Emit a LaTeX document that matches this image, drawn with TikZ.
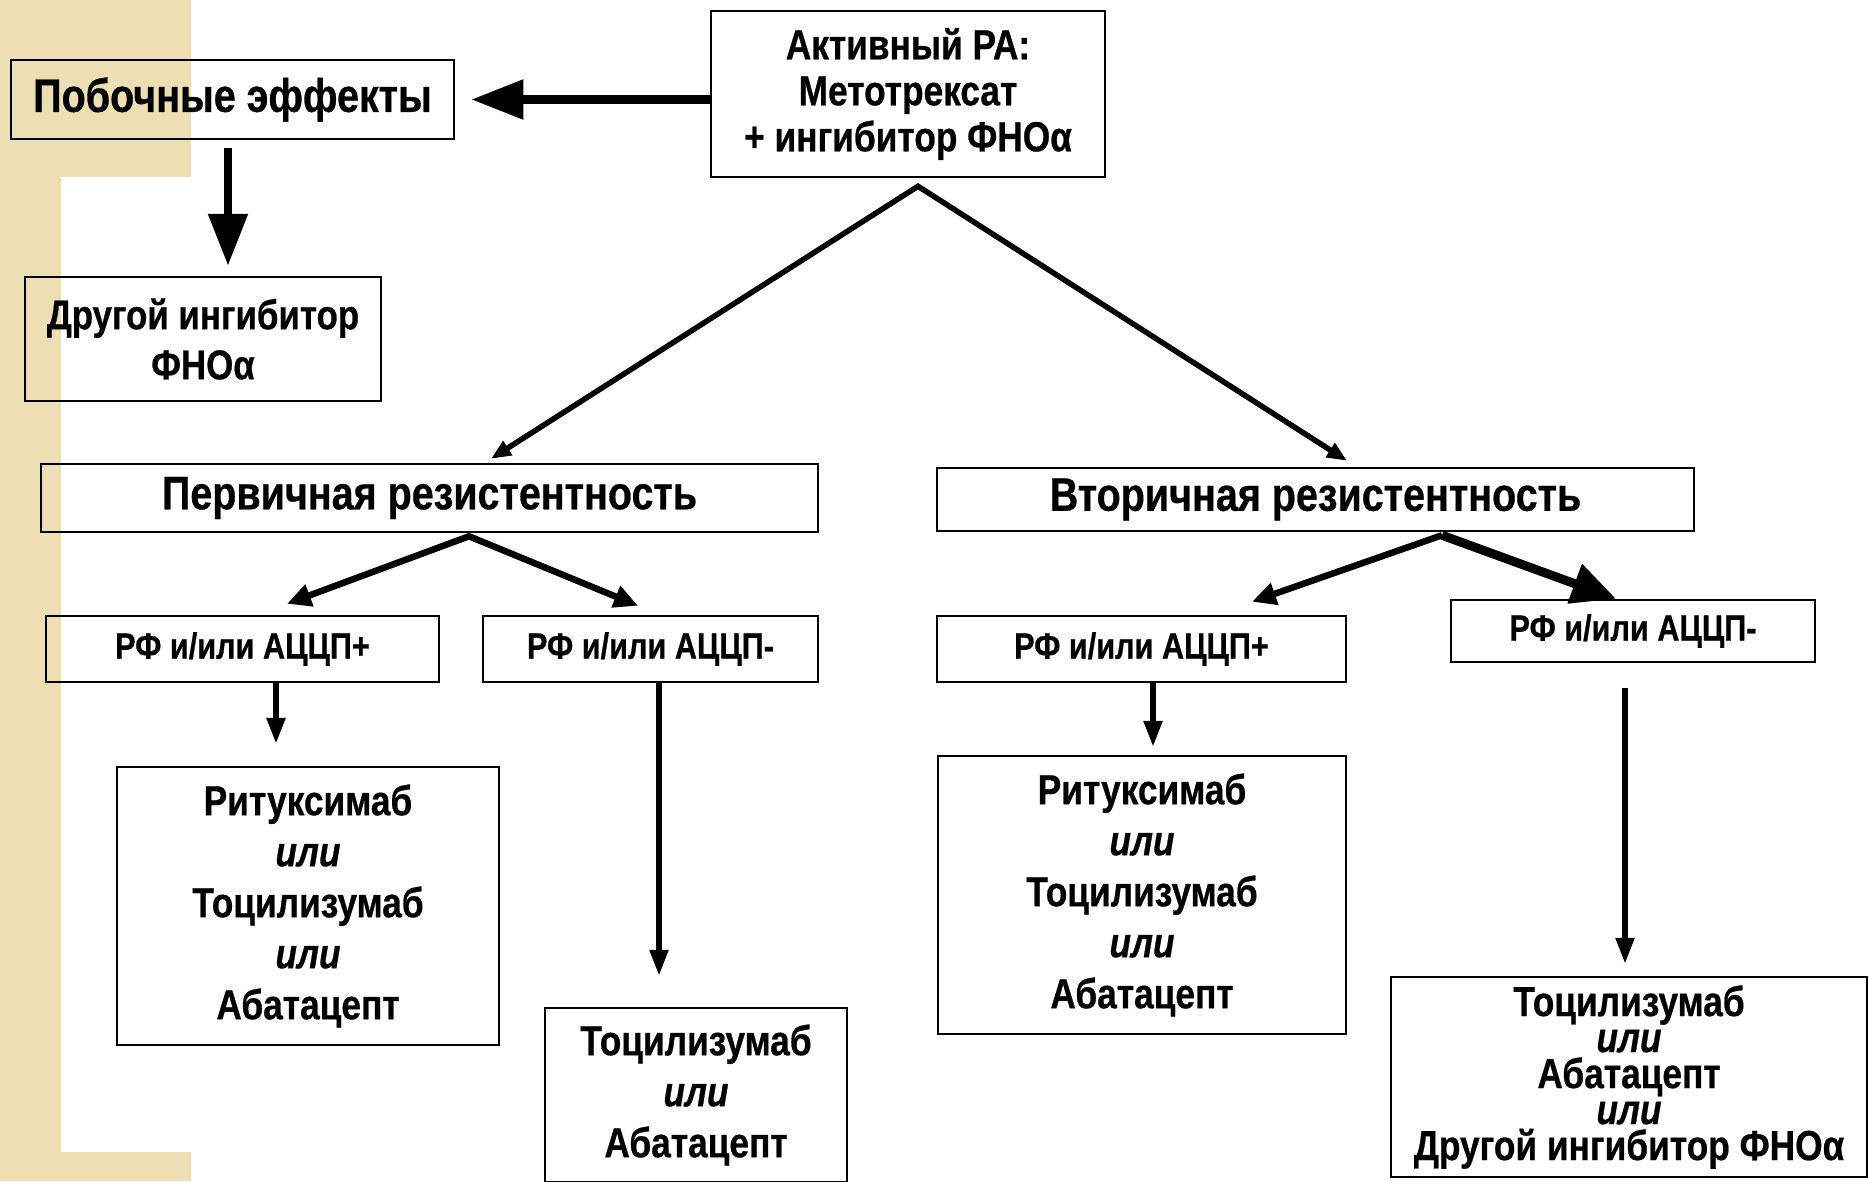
\documentclass[tikz,border=0pt]{standalone}
\usepackage{fontspec}
\setmainfont[FakeStretch=0.84, BoldFeatures={FakeBold=0.6}, BoldItalicFeatures={FakeBold=0.6}]{Liberation Sans}
\usetikzlibrary{arrows.meta}
\definecolor{paper}{RGB}{238,222,180}
\begin{document}
\begin{tikzpicture}[x=1pt, y=-1pt,
  box/.style={draw, line width=2.5pt, inner sep=0pt, align=center},
  sidearr/.style={line width=8.5pt, -{Triangle[length=52pt,width=38pt]}},
  diagarr/.style={line width=5.5pt, line join=miter, {Triangle[length=20pt,width=16pt]}-{Triangle[length=20pt,width=16pt]}},
  subarr/.style={line width=6.5pt, line join=miter, {Triangle[length=24pt,width=22pt]}-{Triangle[length=24pt,width=22pt]}},
  heavyarr/.style={line width=9pt, -{Triangle[length=44pt,width=40pt]}},
  downarr/.style={line width=5.5pt, -{Triangle[length=26pt,width=18pt]}}]
  \useasboundingbox (0,0) rectangle (1868,1181);
  % beige frame on the left
  \fill[paper] (0,0) -- (191,0) -- (191,177) -- (61,177) -- (61,1152) -- (191,1152) -- (191,1181) -- (0,1181) -- cycle;

  % boxes
  \node[box, minimum width=394pt, minimum height=166pt, font=\fontsize{42}{46}\selectfont\bfseries] (ra) at (908,94) {Активный РА:\\Метотрексат\\+ ингибитор ФНОα};
  \node[box, minimum width=443pt, minimum height=79pt, font=\fontsize{47}{50}\selectfont\bfseries] (side) at (232.5,99.5) {Побочные эффекты};
  \node[box, minimum width=356pt, minimum height=124pt, font=\fontsize{41.5}{50}\selectfont\bfseries] (other) at (203,339) {Другой ингибитор\\ФНОα};
  \node[box, minimum width=777pt, minimum height=68pt, font=\fontsize{47}{52}\selectfont\bfseries] (prim) at (429.5,498) {Первичная резистентность};
  \node[box, minimum width=757pt, minimum height=63pt, font=\fontsize{47}{52}\selectfont\bfseries] (sec) at (1315.5,499.5) {Вторичная резистентность};
  \node[box, minimum width=393pt, minimum height=66pt, font=\fontsize{36.5}{40}\selectfont\bfseries] (pplus) at (242.5,649) {РФ и/или АЦЦП+};
  \node[box, minimum width=335pt, minimum height=66pt, font=\fontsize{36.5}{40}\selectfont\bfseries] (pminus) at (650.5,649) {РФ и/или АЦЦП-};
  \node[box, minimum width=409pt, minimum height=66pt, font=\fontsize{36.5}{40}\selectfont\bfseries] (splus) at (1141.5,649) {РФ и/или АЦЦП+};
  \node[box, minimum width=364pt, minimum height=62pt, font=\fontsize{36.5}{40}\selectfont\bfseries] (sminus) at (1633,631) {РФ и/или АЦЦП-};
  \node[box, minimum width=382pt, minimum height=278pt, font=\fontsize{42}{51}\selectfont\bfseries] (prt) at (308,906) {Ритуксимаб\\\textit{или}\\Тоцилизумаб\\\textit{или}\\Абатацепт};
  \node[box, minimum width=302pt, minimum height=174pt, font=\fontsize{42}{51}\selectfont\bfseries] (ptoc) at (696,1095) {Тоцилизумаб\\\textit{или}\\Абатацепт};
  \node[box, minimum width=408pt, minimum height=278pt, font=\fontsize{42}{51}\selectfont\bfseries] (srt) at (1142,895) {Ритуксимаб\\\textit{или}\\Тоцилизумаб\\\textit{или}\\Абатацепт};
  \node[box, minimum width=476pt, minimum height=200pt, font=\fontsize{42}{36}\selectfont\bfseries] (sfin) at (1629,1077) {Тоцилизумаб\\\textit{или}\\Абатацепт\\\textit{или}\\Другой ингибитор ФНОα};

  % connectors
  \draw[sidearr] (ra.west |- side.east) -- ([xshift=16pt]side.east);
  \draw[sidearr] ([xshift=-4.5pt,yshift=-8pt]side.south) -- ([xshift=25pt,yshift=10pt]other.north);
  \draw[diagarr] ([xshift=61.5pt,yshift=4pt]prim.north) -- ([xshift=10pt,yshift=-8pt]ra.south) -- ([xshift=31.5pt,yshift=6pt]sec.north);
  \draw[subarr] ([xshift=44.5pt,yshift=11pt]pplus.north) -- ([xshift=39.5pt,yshift=-3pt]prim.south) -- ([xshift=-12.5pt,yshift=9pt]pminus.north);
  \draw[subarr, {Triangle[length=24pt,width=22pt]}-] ([xshift=110.5pt,yshift=13pt]splus.north) -- ([xshift=126.5pt,yshift=-3pt]sec.south);
  \draw[heavyarr] ([xshift=126.5pt,yshift=-3pt]sec.south) -- ([xshift=-17pt]sminus.north);
  \draw[downarr] ([xshift=33.5pt]pplus.south) -- ([xshift=-32pt,yshift=22pt]prt.north);
  \draw[downarr] ([xshift=8.5pt]pminus.south) -- ([xshift=-37pt,yshift=31pt]ptoc.north);
  \draw[downarr] ([xshift=11.5pt]splus.south) -- ([xshift=11pt,yshift=8pt]srt.north);
  \draw[downarr] ([xshift=-8pt,yshift=-25pt]sminus.south) -- ([xshift=-4pt,yshift=12pt]sfin.north);
\end{tikzpicture}
\end{document}
